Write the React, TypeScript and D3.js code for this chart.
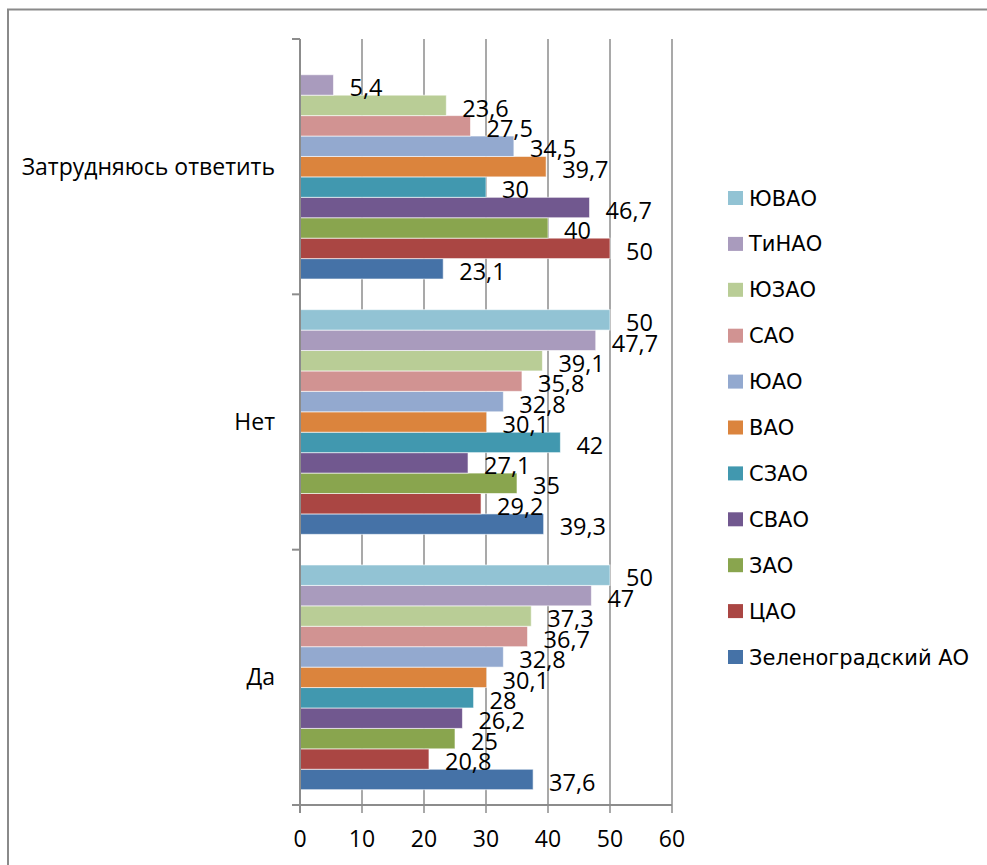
import React from "react";
import * as d3 from "d3";

const categories = ["Затрудняюсь ответить", "Нет", "Да"];
const seriesNames = ["Зеленоградский АО", "ЦАО", "ЗАО", "СВАО", "СЗАО", "ВАО", "ЮАО", "САО", "ЮЗАО", "ТиНАО", "ЮВАО"];
const seriesColors = ["#4572A7", "#AA4643", "#89A54E", "#71588F", "#4198AF", "#DB843D", "#93A9CF", "#D19392", "#B9CD96", "#A99BBD", "#92C3D4"];
// values per category, in seriesNames order
const valuesHard: (number | null)[] = [23.1, 50, 40, 46.7, 30, 39.7, 34.5, 27.5, 23.6, 5.4, null];
const valuesNo: (number | null)[] = [39.3, 29.2, 35, 27.1, 42, 30.1, 32.8, 35.8, 39.1, 47.7, 50];
const valuesYes: (number | null)[] = [37.6, 20.8, 25, 26.2, 28, 30.1, 32.8, 36.7, 37.3, 47, 50];
const xTicks = [0, 10, 20, 30, 40, 50, 60];

const W = 987;
const H = 865;
const FONT = "'Open Sans', 'DejaVu Sans', sans-serif";

export default function App() {
  const valuesByCat = [valuesHard, valuesNo, valuesYes];
  const x = d3.scaleLinear().domain([0, 60]).range([300, 672]);
  const y0 = d3.scaleBand<string>().domain(categories).range([39, 805]).padding(0);
  const bw = y0.bandwidth();
  const pad = (bw * 0.75) / 12.5;
  const topToBottom = [...seriesNames].reverse();
  const y1 = d3.scaleBand<string>().domain(topToBottom).range([pad, bw - pad]).padding(0);
  const fmt = (v: number) => String(v).replace(".", ",");
  const color = d3.scaleOrdinal<string, string>().domain(seriesNames).range(seriesColors);
  const legendY = d3.scalePoint<string>().domain(topToBottom).range([198, 657]);
  const [yTop, yBot] = y0.range();
  const catTicks = [...categories.map((c) => y0(c)!), yBot];

  return (
    <svg width={W} height={H} style={{ position: "absolute", left: 0, top: 0, background: "#fff" }} fontFamily={FONT}>
      <rect x={8} y={9.5} width={1100} height={1000} fill="#fff" stroke="#8a8a8a" strokeWidth={2} />
      {/* grid */}
      {xTicks.map((t) => (
        <line key={"g" + t} x1={x(t)} x2={x(t)} y1={yTop} y2={yBot + 8} stroke="#8c8c8c" strokeWidth={1.5} />
      ))}
      {/* bars */}
      {categories.map((c, ci) => (
        <g key={c} transform={`translate(0,${y0(c)})`}>
          {seriesNames.map((s, si) => {
            const v = valuesByCat[ci][si];
            if (v == null) return null;
            const yy = y1(s)!;
            const h = y1.bandwidth();
            return (
              <g key={s}>
                <rect x={x(0)} y={yy} width={x(v) - x(0)} height={h} fill={color(s)} stroke="#ffffff" strokeOpacity={0.6} strokeWidth={1} />
              </g>
            );
          })}
        </g>
      ))}
      {/* axes */}
      <line x1={x(0)} x2={x(0)} y1={yTop} y2={yBot + 8} stroke="#8c8c8c" strokeWidth={2} />
      <line x1={x(0) - 8} x2={x(60)} y1={yBot} y2={yBot} stroke="#8c8c8c" strokeWidth={2} />
      {catTicks.map((t, i) => (
        <line key={"ct" + i} x1={x(0) - 8} x2={x(0)} y1={t} y2={t} stroke="#8c8c8c" strokeWidth={2} />
      ))}
      {/* data labels */}
      {categories.map((c, ci) => (
        <g key={"l" + c} transform={`translate(0,${y0(c)})`}>
          {seriesNames.map((s, si) => {
            const v = valuesByCat[ci][si];
            if (v == null) return null;
            const cy = y1(s)! + y1.bandwidth() / 2;
            return (
              <text key={s} x={x(v) + 16} y={cy + 3} dy="0.35em" fontSize={23.5} fill="#000">
                {fmt(v)}
              </text>
            );
          })}
        </g>
      ))}
      {/* x tick labels */}
      {xTicks.map((t) => (
        <text key={"t" + t} x={x(t)} y={847} textAnchor="middle" fontSize={23} fill="#000">
          {t}
        </text>
      ))}
      {/* category labels */}
      {categories.map((c) => (
        <text key={"c" + c} x={275} y={y0(c)! + bw / 2} dy="0.35em" textAnchor="end" fontSize={23} fill="#000">
          {c}
        </text>
      ))}
      {/* legend */}
      {topToBottom.map((s) => {
        const ly = legendY(s)!;
        return (
          <g key={"lg" + s}>
            <rect x={728} y={ly - 7} width={15} height={14} fill={color(s)} />
            <text x={749} y={ly} dy="0.36em" fontSize={21} fontFamily="'DejaVu Sans', sans-serif" fill="#000">
              {s}
            </text>
          </g>
        );
      })}
    </svg>
  );
}
